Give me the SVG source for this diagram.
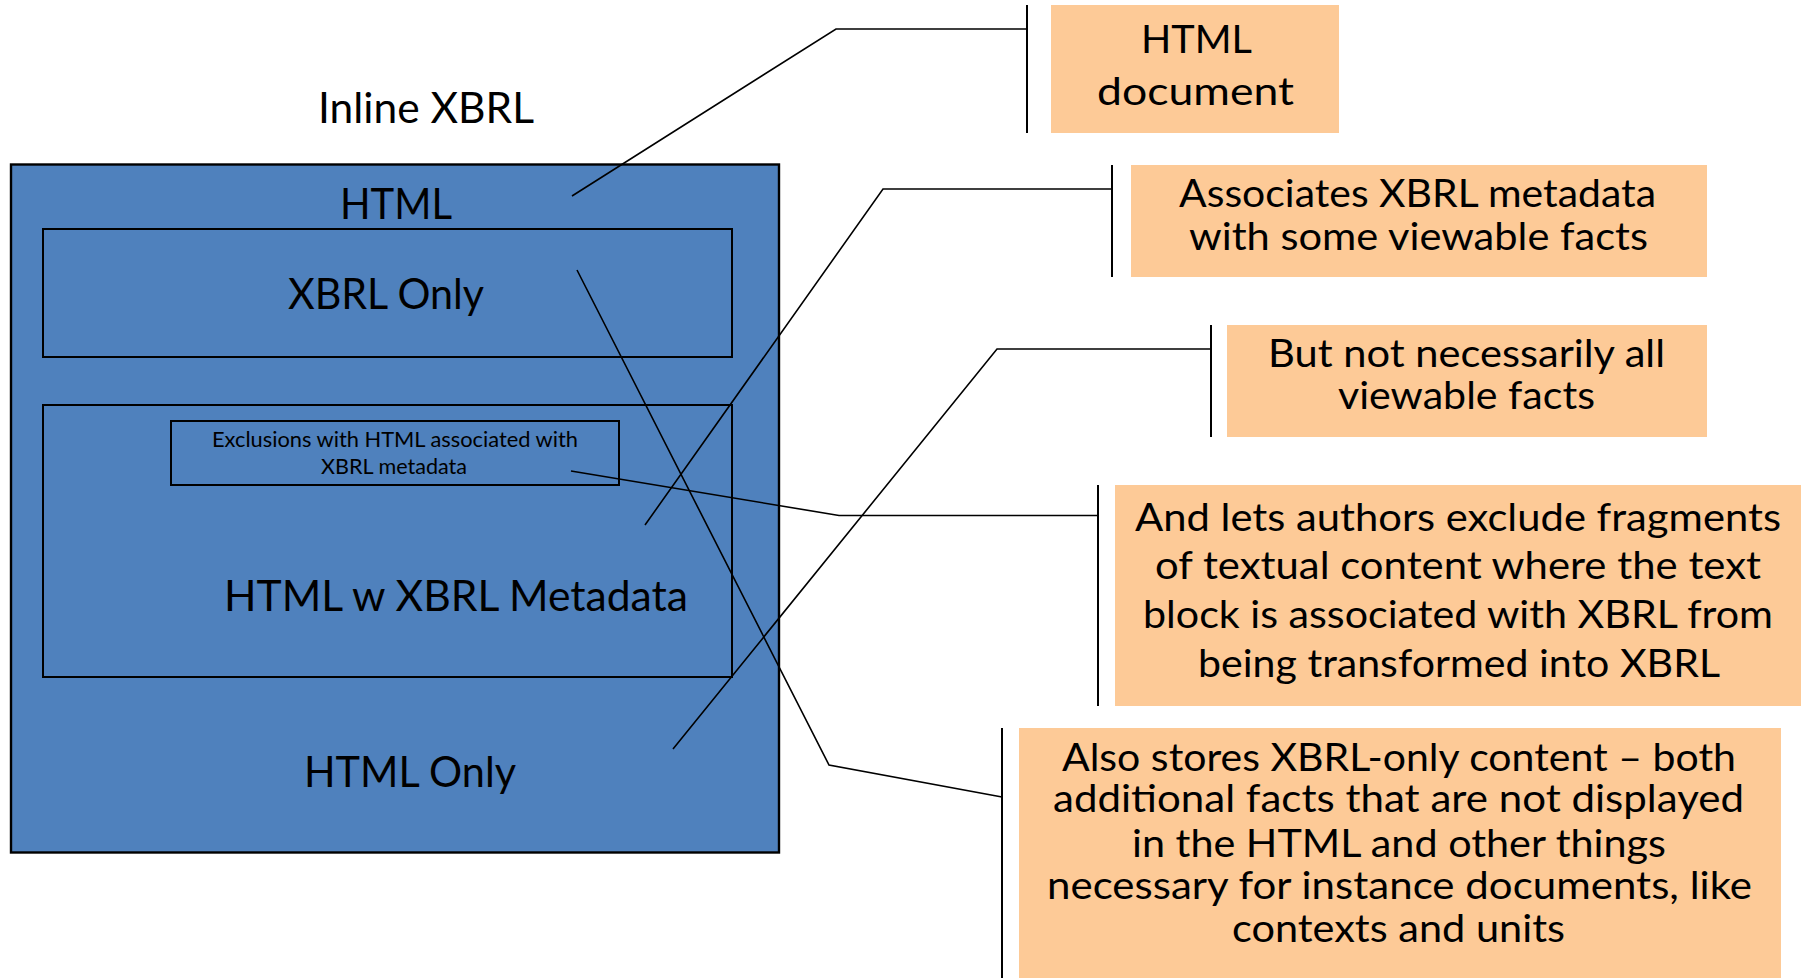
<svg xmlns="http://www.w3.org/2000/svg" width="1801" height="978" viewBox="0 0 1801 978">
<style>
text{font-family:Lato,"Liberation Sans",sans-serif;fill:#000;}
.big{font-size:42px;}
.mid{font-size:39.5px;}
.sm{font-size:22px;}
.blue{fill:#4F81BD;stroke:#000;}
.peach{fill:#FDCA97;stroke:none;}
.conn{fill:none;stroke:#000;stroke-width:1.6;}
.bar{stroke:#000;stroke-width:2;}
</style>
<rect width="1801" height="978" fill="#fff"/>
<g id="title"><text class="big" x="318" y="123" textLength="216" lengthAdjust="spacingAndGlyphs">Inline XBRL</text></g>
<g id="html-outer">
<rect class="blue" x="11" y="164.5" width="768" height="688" stroke-width="2.4"/>
<text class="big" x="340" y="219.3" textLength="112" lengthAdjust="spacingAndGlyphs">HTML</text>
<text class="big" x="304" y="786.7" textLength="212" lengthAdjust="spacingAndGlyphs">HTML Only</text>
</g>
<g id="xbrl-only">
<rect class="blue" x="43" y="229" width="689" height="128" stroke-width="2"/>
<text class="big" x="288" y="309" textLength="196" lengthAdjust="spacingAndGlyphs">XBRL Only</text>
</g>
<g id="html-xbrl-meta">
<rect class="blue" x="43" y="405" width="689" height="272" stroke-width="2"/>
<text class="big" x="224" y="610.7" textLength="464" lengthAdjust="spacingAndGlyphs">HTML w XBRL Metadata</text>
</g>
<g id="exclusions">
<rect class="blue" x="171" y="421" width="448" height="64" stroke-width="2"/>
<text class="sm" x="212" y="447.3" textLength="366" lengthAdjust="spacingAndGlyphs">Exclusions with HTML associated with</text>
<text class="sm" x="321" y="474.3" textLength="146" lengthAdjust="spacingAndGlyphs">XBRL metadata</text>
</g>
<g id="connectors">
<polyline class="conn" points="572,196 836,29 1027,29"/>
<polyline class="conn" points="645,525 883,189 1112,189"/>
<polyline class="conn" points="673,749 997,349 1211,349"/>
<polyline class="conn" points="571,471 839,515.5 1098,515.5"/>
<polyline class="conn" points="577,270 829,765 1002,797"/>
<line class="bar" x1="1027" y1="5" x2="1027" y2="133"/>
<line class="bar" x1="1112" y1="165" x2="1112" y2="277"/>
<line class="bar" x1="1211" y1="325" x2="1211" y2="437"/>
<line class="bar" x1="1098" y1="485" x2="1098" y2="706"/>
<line class="bar" x1="1002" y1="728" x2="1002" y2="978"/>
</g>
<g id="note-html-document">
<rect class="peach" x="1051" y="5" width="288" height="128"/>
<text class="mid" x="1141" y="53.3" textLength="111" lengthAdjust="spacingAndGlyphs">HTML</text>
<text class="mid" x="1097" y="105" textLength="197" lengthAdjust="spacingAndGlyphs">document</text>
</g>
<g id="note-associates">
<rect class="peach" x="1131" y="165" width="576" height="112"/>
<text class="mid" x="1179" y="206.7" textLength="477" lengthAdjust="spacingAndGlyphs">Associates XBRL metadata</text>
<text class="mid" x="1189" y="250" textLength="459" lengthAdjust="spacingAndGlyphs">with some viewable facts</text>
</g>
<g id="note-not-all">
<rect class="peach" x="1227" y="325" width="480" height="112"/>
<text class="mid" x="1268" y="366.7" textLength="397" lengthAdjust="spacingAndGlyphs">But not necessarily all</text>
<text class="mid" x="1338" y="409.3" textLength="257" lengthAdjust="spacingAndGlyphs">viewable facts</text>
</g>
<g id="note-exclude">
<rect class="peach" x="1115" y="485" width="686" height="221"/>
<text class="mid" x="1135" y="531" textLength="646" lengthAdjust="spacingAndGlyphs">And lets authors exclude fragments</text>
<text class="mid" x="1155" y="579.3" textLength="606" lengthAdjust="spacingAndGlyphs">of textual content where the text</text>
<text class="mid" x="1143" y="628.3" textLength="630" lengthAdjust="spacingAndGlyphs">block is associated with XBRL from</text>
<text class="mid" x="1198" y="676.7" textLength="522" lengthAdjust="spacingAndGlyphs">being transformed into XBRL</text>
</g>
<g id="note-xbrl-only">
<rect class="peach" x="1019" y="728" width="762" height="250"/>
<text class="mid" x="1062" y="770.7" textLength="674" lengthAdjust="spacingAndGlyphs">Also stores XBRL-only content – both</text>
<text class="mid" x="1053" y="812" textLength="691" lengthAdjust="spacingAndGlyphs">additional facts that are not displayed</text>
<text class="mid" x="1132" y="856.7" textLength="534" lengthAdjust="spacingAndGlyphs">in the HTML and other things</text>
<text class="mid" x="1047" y="898.5" textLength="705" lengthAdjust="spacingAndGlyphs">necessary for instance documents, like</text>
<text class="mid" x="1232" y="941.7" textLength="333" lengthAdjust="spacingAndGlyphs">contexts and units</text>
</g>
</svg>
